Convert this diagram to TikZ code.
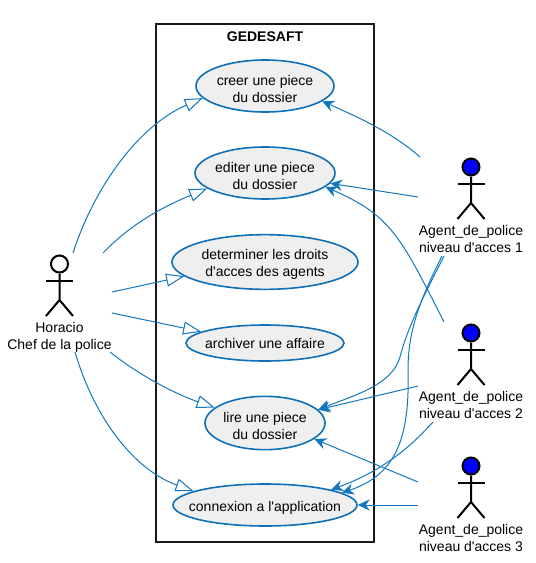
\documentclass[tikz,border=0pt]{standalone}
\usepackage{fontspec}
\setmainfont{Liberation Sans}[Ligatures=TeXOff]
\usetikzlibrary{positioning, shapes.geometric, arrows.meta}
\definecolor{umlline}{HTML}{1277BC}
\definecolor{umledge}{HTML}{0F70B7}
\definecolor{umlfill}{HTML}{EFEFEF}

\begin{document}
\begin{tikzpicture}[x=.75pt, y=-.75pt, font=\fontsize{10.5}{12.75}\selectfont,
		sysbox/.style={draw=black!90, line width=1.5pt, minimum width=163.5pt, minimum height=388.5pt, inner sep=0pt},
		uc/.style={ellipse, draw=umledge, fill=umlfill, line width=1.2pt, align=center, inner xsep=-20pt, inner ysep=-8pt, execute at begin node={\rule{0pt}{#1}}},
		uc/.default=24.2pt,
		head/.style={circle, draw=black, line width=1.5pt, minimum size=12.75pt, inner sep=0pt},
		stick/.style={draw=black, line width=1.5pt},
		lbl/.style={align=center, inner sep=0pt},
		gen/.style={draw=umlline, line width=.75pt, -{Triangle[open, fill=white, length=13.5pt, width=9.75pt]}},
		acc/.style={draw=umlline, line width=.75pt, -{Stealth[length=9pt, width=8.5pt, inset=3pt]}}]
		\useasboundingbox (0,0) rectangle (535,563);

		\node[sysbox] (S) at (265,283) {};
		\node[lbl, below=6.5pt of S.north] (S_label) {\textbf{GEDESAFT}};

		\node[uc, minimum width=103.5pt, minimum height=39pt] (creer) at (265,86) {creer une piece\\du dossier};
		\node[uc, minimum width=105pt, minimum height=39pt] (editer) at (265,173) {editer une piece\\du dossier};
		\node[uc, minimum width=139.5pt, minimum height=41pt] (droits) at (265,262) {determiner les droits\\d'acces des agents};
		\node[uc=0pt, minimum width=118.5pt, minimum height=27pt] (archiver) at (265,343) {archiver une affaire};
		\node[uc, minimum width=90pt, minimum height=40pt] (lire) at (265,423) {lire une piece\\du dossier};
		\node[uc=11.5pt, minimum width=138pt, minimum height=31.5pt] (connexion) at (265,505) {connexion a l'application};

		\foreach \n/\x/\y/\c/\t in {H/59.5/264/white/{Horacio\\Chef de la police},
				A1/471/167/blue/{Agent\_de\_police\\niveau d'acces 1},
				A2/471/333/blue/{Agent\_de\_police\\niveau d'acces 2},
				A3/471/466/blue/{Agent\_de\_police\\niveau d'acces 3}} {
			\node[head, fill=\c] (\n) at (\x,\y) {};
			\draw[stick] (\n.south) -- ++(0,26.5) coordinate (\n_hip) ++(-13.5,16) -- (\n_hip) -- ++(13.5,16);
			\draw[stick] (\n.south) ++(-13.5,7.5) -- ++(27,0);
			\node[lbl, below=16.8pt of \n_hip] (\n_label) {\t};
		}

		% free ends
		\coordinate (H_a) at (73,253);
		\coordinate (H_b) at (103,253);
		\coordinate (H_c) at (112,292);
		\coordinate (H_d) at (112,313);
		\coordinate (H_e) at (110,352);
		\coordinate (H_f) at (75,352);
		\coordinate (A1_a) at (420,157);
		\coordinate (A1_b) at (418,197);
		\coordinate (A1_c) at (444,256);
		\coordinate (A1_d) at (442,256);
		\coordinate (A2_a) at (444,322);
		\coordinate (A2_b) at (418,386);
		\coordinate (A2_c) at (433,422);
		\coordinate (A3_a) at (418,482);
		\coordinate (A3_b) at (418,505);

		\draw[gen] (H_a) .. controls (95,185) and (140,125) .. (creer.191);
		\draw[gen] (H_b) .. controls (130,225) and (160,208) .. (editer.195);
		\draw[gen] (H_c) -- (droits.190);
		\draw[gen] (H_d) -- (archiver.170);
		\draw[gen] (H_e) .. controls (135,372) and (170,392) .. (lire.163);
		\draw[gen] (H_f) .. controls (95,420) and (135,470) .. (connexion.169);

		\draw[acc] (A1_a) .. controls (395,135) and (365,120) .. (creer.345);
		\draw[acc] (A1_b) -- (editer.351);
		\draw[acc] (A1_c) .. controls (428,288) and (408,325) .. (400,357) .. controls (392,385) and (355,395) .. (lire.14);
		\draw[acc] (A1_d) .. controls (420,300) and (408,330) .. (408,370) .. controls (410,440) and (395,475) .. (connexion.9);
		\draw[acc] (A2_a) .. controls (400,235) and (390,215) .. (editer.347);
		\draw[acc] (A2_b) -- (lire.14);
		\draw[acc] (A2_c) .. controls (412,445) and (385,470) .. (connexion.13);
		\draw[acc] (A3_a) -- (lire.342);
		\draw[acc] (A3_b) -- (connexion.0);
	\end{tikzpicture}
\end{document}
